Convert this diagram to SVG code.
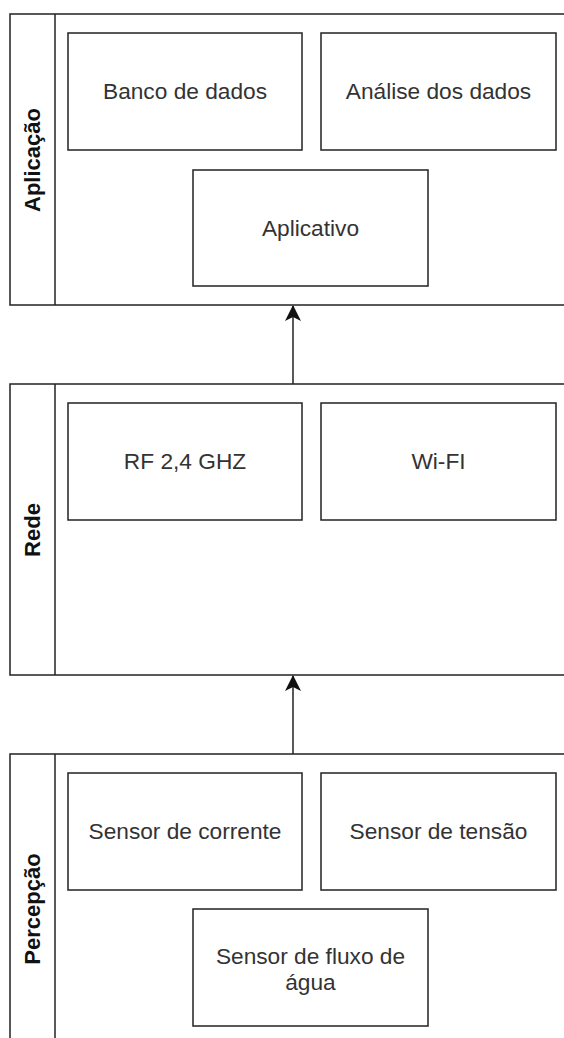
<svg xmlns="http://www.w3.org/2000/svg" width="564" height="1038" viewBox="0 0 564 1038">
<style>
.pool{fill:#fff;stroke:#222;stroke-width:1.5}
.box{fill:#fff;stroke:#222;stroke-width:1.5}
.lbl{font-family:"Liberation Sans",Arial,sans-serif;font-size:22.7px;fill:#333;text-anchor:middle}
.plbl{font-family:"Liberation Sans",Arial,sans-serif;font-size:22px;font-weight:bold;fill:#111;text-anchor:middle}
.edge{stroke:#222;stroke-width:1.5;fill:none}
</style>
<defs>
<marker id="arr" viewBox="0 0 16 16" refX="15" refY="8" markerWidth="16" markerHeight="16" markerUnits="userSpaceOnUse" orient="auto">
<path d="M0,0 L16,8 L0,16 L4,8 Z" fill="#111"/>
</marker>
</defs>
<rect width="564" height="1038" fill="#fff"/>
<g id="pool-aplicacao">
<rect class="pool" x="10" y="14" width="580" height="291"/>
<line class="pool" x1="55" y1="14" x2="55" y2="305"/>
<text class="plbl" transform="translate(40,160) rotate(-90)">Aplicação</text>
</g>
<g id="pool-rede">
<rect class="pool" x="10" y="384" width="580" height="291"/>
<line class="pool" x1="55" y1="384" x2="55" y2="675"/>
<text class="plbl" transform="translate(40,530) rotate(-90)">Rede</text>
</g>
<g id="pool-percepcao">
<rect class="pool" x="10" y="754" width="580" height="310"/>
<line class="pool" x1="55" y1="754" x2="55" y2="1064"/>
<text class="plbl" transform="translate(40,909) rotate(-90)">Percepção</text>
</g>
<g id="banco">
<rect class="box" x="68" y="33" width="234" height="117"/>
<text class="lbl" x="185" y="99">Banco de dados</text>
</g>
<g id="analise">
<rect class="box" x="321" y="33" width="235" height="117"/>
<text class="lbl" x="438.5" y="99">Análise dos dados</text>
</g>
<g id="aplicativo">
<rect class="box" x="193" y="170" width="235" height="116"/>
<text class="lbl" x="310.5" y="236">Aplicativo</text>
</g>
<g id="rf">
<rect class="box" x="68" y="403" width="234" height="117"/>
<text class="lbl" x="185" y="469">RF 2,4 GHZ</text>
</g>
<g id="wifi">
<rect class="box" x="321" y="403" width="235" height="117"/>
<text class="lbl" x="438.5" y="469">Wi-FI</text>
</g>
<g id="corrente">
<rect class="box" x="68" y="773" width="234" height="117"/>
<text class="lbl" x="185" y="839">Sensor de corrente</text>
</g>
<g id="tensao">
<rect class="box" x="321" y="773" width="235" height="117"/>
<text class="lbl" x="438.5" y="839">Sensor de tensão</text>
</g>
<g id="fluxo">
<rect class="box" x="193" y="909" width="235" height="117"/>
<text class="lbl" x="310.5" y="964">Sensor de fluxo de</text>
<text class="lbl" x="310.5" y="990">água</text>
</g>
<g id="connectors">
<line class="edge" x1="293" y1="384" x2="293" y2="306" marker-end="url(#arr)"/>
<line class="edge" x1="293" y1="754" x2="293" y2="676" marker-end="url(#arr)"/>
</g>
</svg>
